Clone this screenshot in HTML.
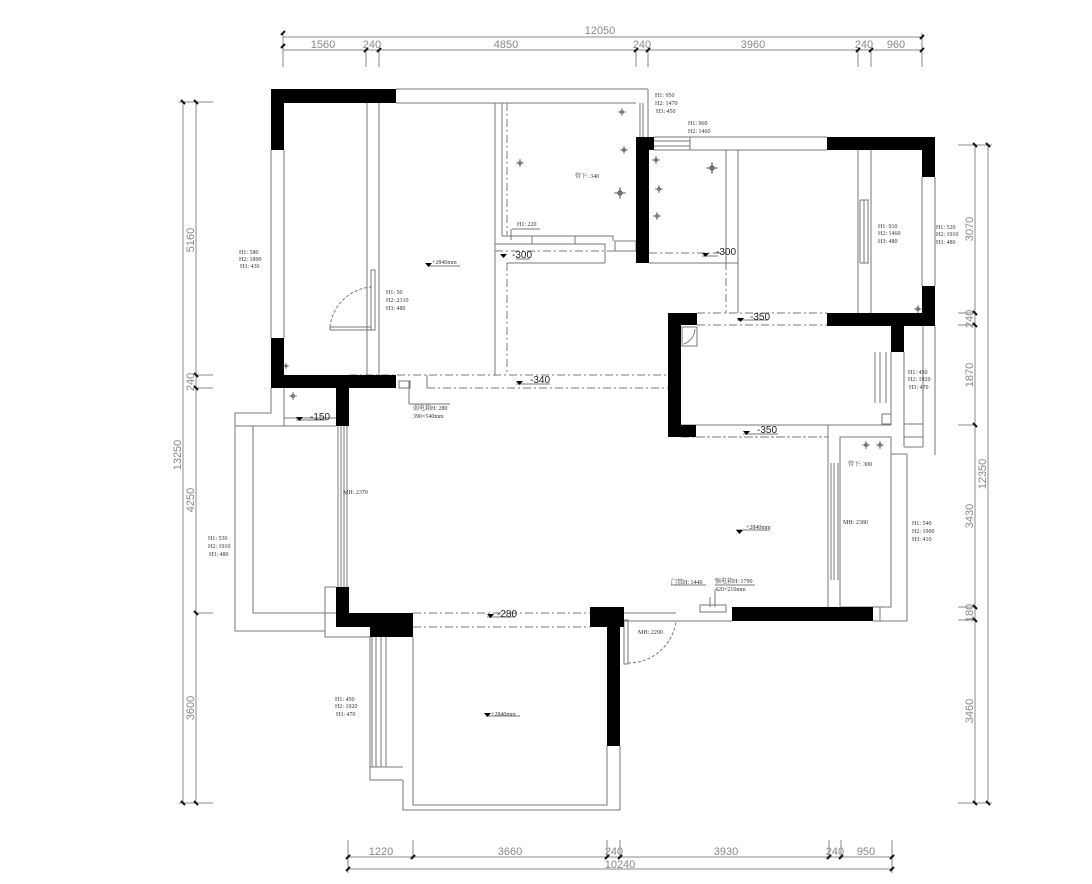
<!DOCTYPE html>
<html><head><meta charset="utf-8"><style>
html,body{margin:0;padding:0;background:#fff;}
svg{display:block;}
text{font-family:"Liberation Serif","Noto Serif CJK SC",serif;fill:#333;}
.d text{font-family:"Liberation Sans",sans-serif;fill:#888;font-size:11px;}
.s text{font-size:6px;}
.l text{font-family:"Liberation Sans",sans-serif;font-size:10px;fill:#222;}
</style></head><body>
<svg width="1092" height="884" viewBox="0 0 1092 884" xmlns="http://www.w3.org/2000/svg">
<defs>
<symbol id="fx" viewBox="-5 -5 10 10"><path d="M-4 0H4M0-4V4" stroke="#555" stroke-width="0.8"/><circle r="1.5" fill="none" stroke="#555" stroke-width="0.8"/></symbol>
</defs>
<g stroke="#888" stroke-width="1" fill="none">
<path d="M283 37H922M283 50H922"/>
<path d="M283 33V67M366 50V67M379 50V67M636 50V67M648 50V67M858 50V67M871 50V67M922 33V67"/>
<path d="M348 857H892M348 869H892"/>
<path d="M348 840V873M413 840V857M607 840V857M620 840V857M829 840V857M841 840V857M892 840V873"/>
<path d="M183 102V803M196 102V803"/>
<path d="M179 102H213M196 375H213M196 388H213M196 613H213M179 803H213"/>
<path d="M975 145V803M988 145V803"/>
<path d="M958 145H992M958 313H975M958 325H975M958 425H975M958 607H975M958 620H975M958 803H992"/>
</g>
<g stroke="#111" stroke-width="2">
<path d="M281 35l4-4M281 48l4-4M364 52l4-4M377 52l4-4M634 52l4-4M646 52l4-4M856 52l4-4M869 52l4-4M920 52l4-4M920 39l4-4"/>
<path d="M346 859l4-4M411 859l4-4M605 859l4-4M618 859l4-4M827 859l4-4M839 859l4-4M890 859l4-4M346 871l4-4M890 871l4-4"/>
<path d="M181 100l4 4M194 100l4 4M194 373l4 4M194 386l4 4M194 611l4 4M181 801l4 4M194 801l4 4"/>
<path d="M973 143l4 4M986 143l4 4M973 311l4 4M973 323l4 4M973 423l4 4M973 605l4 4M973 618l4 4M973 801l4 4M986 801l4 4"/>
</g>
<g class="d">
<text x="600" y="34" text-anchor="middle">12050</text>
<text x="323" y="48" text-anchor="middle">1560</text>
<text x="372" y="48" text-anchor="middle">240</text>
<text x="506" y="48" text-anchor="middle">4850</text>
<text x="642" y="48" text-anchor="middle">240</text>
<text x="753" y="48" text-anchor="middle">3960</text>
<text x="864" y="48" text-anchor="middle">240</text>
<text x="896" y="48" text-anchor="middle">960</text>
<text x="381" y="855" text-anchor="middle">1220</text>
<text x="510" y="855" text-anchor="middle">3660</text>
<text x="614" y="855" text-anchor="middle">240</text>
<text x="726" y="855" text-anchor="middle">3930</text>
<text x="835" y="855" text-anchor="middle">240</text>
<text x="866" y="855" text-anchor="middle">950</text>
<text x="620" y="868" text-anchor="middle">10240</text>
<text transform="translate(194,240) rotate(-90)" text-anchor="middle">5160</text>
<text transform="translate(194,382) rotate(-90)" text-anchor="middle">240</text>
<text transform="translate(194,500) rotate(-90)" text-anchor="middle">4250</text>
<text transform="translate(194,708) rotate(-90)" text-anchor="middle">3600</text>
<text transform="translate(181,455) rotate(-90)" text-anchor="middle">13250</text>
<text transform="translate(973,229) rotate(-90)" text-anchor="middle">3070</text>
<text transform="translate(973,319) rotate(-90)" text-anchor="middle">240</text>
<text transform="translate(973,375) rotate(-90)" text-anchor="middle">1870</text>
<text transform="translate(973,516) rotate(-90)" text-anchor="middle">3430</text>
<text transform="translate(973,613) rotate(-90)" text-anchor="middle">180</text>
<text transform="translate(973,711) rotate(-90)" text-anchor="middle">3460</text>
<text transform="translate(986,474) rotate(-90)" text-anchor="middle">12350</text>
</g>
<g stroke="#777" stroke-width="1" fill="none">
<path d="M396 89H648M396 103H636M648 89V137M643 103V137M640 103V137"/>
<path d="M654 137H827M654 150H827M654 141H690M654 146H690M690 137V150"/>
<path d="M271 150V338M284 150V338"/>
<path d="M922 177V286M935 177V286"/>
<path d="M367 103V375M379 103V375M371 270h4v60h-4zM330 327H371M330 330H371M330 327V330"/>
<path d="M330 327A45 45 0 0 1 371 287" stroke-dasharray="3 2"/>
<path d="M495 103V375M502 103V236"/>
<path d="M507 103V235M507 263V375" stroke-dasharray="8 3 2 3"/>
<path d="M502 236H613V241M495 244H605V263M532 236V244M575 236V244M507 263H605"/>
<path d="M615 241H636V251H615Z"/>
<path d="M495 251H636M649 253H726" stroke-dasharray="8 3 2 3"/>
<path d="M726 150V262M738 150V313M649 263H738"/>
<path d="M726 262V313" stroke-dasharray="8 3 2 3"/>
<path d="M858 150V313M871 150V313M860 200V263M864 200V263M868 200V263M860 200H869M860 263H869"/>
<path d="M697 313H827M697 325H827M681 437H828M349 375H668M427 388H668" stroke-dasharray="8 3 2 3"/>
<path d="M427 375V388M399 381H410V388H399Z"/>
<path d="M682 327H697V346H682ZM684 344Q694 340 695 329"/>
<path d="M681 425H891V352M882 414H891V424H882Z"/>
<path d="M875 352V403M880 352V403M886 352V403"/>
<path d="M935 325V455M904 352V447M923 326V447M904 424H923M904 437H923M904 447H923M891 454H907"/>
<path d="M828 425V607M840 437H891V607H840ZM907 454V621M873 621H907M880 607V621M873 607H880"/>
<path d="M831 463V580M834 463V580M838 463V580"/>
<path d="M696 437H828" stroke-dasharray="8 3 2 3"/>
<path d="M271 388V413H235V631H325M284 388V426M284 418H336M253 426V613H325M235 426H336"/>
<path d="M325 587V637H370M325 587H336M325 613H336"/>
<path d="M338 426V587M341 426V587M344 426V587M347 426V587"/>
<path d="M284 426H336" stroke-dasharray="4 2"/>
<path d="M413 613H590M413 627H590" stroke-dasharray="8 3 2 3"/>
<path d="M624 620h4v44h-4zM620 621H732M624 613H676M700 605H726V612H700Z"/>
<path d="M628 663A48 48 0 0 0 676 621" stroke-dasharray="3 2"/>
<path d="M710 597V607M715 590V607"/>
<path d="M413 637V805H607V746M403 780V810H620V746M370 637V780H403M370 767H403"/>
<path d="M372 637V767M376 637V767M381 637V767M386 637V767"/>
<path d="M428 266H460M516 259H530M702 256H718M737 320H768M516 384H550M296 420H326M743 434H778M736 530H770M487 617H515M486 716H520M512 229H540M511 229V240M409 404V381M409 404H450M671 585H706M715 585H755"/>
</g>
<g fill="#000">
<rect x="271" y="89" width="125" height="14"/>
<rect x="271" y="89" width="13" height="61"/>
<rect x="271" y="338" width="13" height="50"/>
<rect x="271" y="375" width="125" height="13"/>
<rect x="336" y="375" width="13" height="51"/>
<rect x="636" y="137" width="13" height="126"/>
<rect x="636" y="137" width="18" height="13"/>
<rect x="827" y="137" width="108" height="13"/>
<rect x="922" y="137" width="13" height="40"/>
<rect x="922" y="286" width="13" height="40"/>
<rect x="827" y="313" width="108" height="13"/>
<rect x="891" y="313" width="13" height="39"/>
<rect x="668" y="313" width="13" height="124"/>
<rect x="668" y="313" width="29" height="12"/>
<rect x="668" y="425" width="28" height="12"/>
<rect x="336" y="587" width="13" height="40"/>
<rect x="336" y="613" width="77" height="14"/>
<rect x="370" y="613" width="43" height="24"/>
<rect x="590" y="607" width="34" height="20"/>
<rect x="607" y="607" width="13" height="139"/>
<rect x="732" y="607" width="141" height="14"/>
</g>
<g fill="#000">
<path d="M500 254h7l-3.5 4z"/><path d="M702 253h7l-3.5 4z"/><path d="M425 263h7l-3.5 4z"/>
<path d="M737 318h7l-3.5 4z"/><path d="M516 381h7l-3.5 4z"/><path d="M296 417h7l-3.5 4z"/>
<path d="M743 431h7l-3.5 4z"/><path d="M736 530h7l-3.5 4z"/><path d="M487 614h7l-3.5 4z"/><path d="M484 713h7l-3.5 4z"/>
</g>
<g>
<use href="#fx" x="617" y="107" width="10" height="10"/>
<use href="#fx" x="515" y="158" width="10" height="10"/>
<use href="#fx" x="619" y="145" width="10" height="10"/>
<use href="#fx" x="613" y="186" width="14" height="14"/>
<use href="#fx" x="651" y="155" width="10" height="10"/>
<use href="#fx" x="705" y="161" width="14" height="14"/>
<use href="#fx" x="654" y="184" width="10" height="10"/>
<use href="#fx" x="652" y="211" width="10" height="10"/>
<use href="#fx" x="288" y="391" width="10" height="10"/>
<use href="#fx" x="282" y="362" width="8" height="8"/>
<use href="#fx" x="861" y="440" width="10" height="10"/>
<use href="#fx" x="875" y="440" width="10" height="10"/>
<use href="#fx" x="913" y="304" width="10" height="10"/>
</g>
<g class="s">
<text x="655" y="97">H1: 950</text><text x="655" y="105">H2: 1470</text><text x="656" y="113">H3: 450</text>
<text x="688" y="125">H1: 960</text><text x="688" y="133">H2: 1460</text>
<text x="239" y="254">H1: 580</text><text x="239" y="261">H2: 1890</text><text x="240" y="268">H3: 430</text>
<text x="575" y="178">管下: 340</text>
<text x="517" y="226">H1: 220</text>
<text x="386" y="294">H1: 50</text><text x="386" y="302">H2: 2310</text><text x="386" y="310">H3: 480</text>
<text x="432" y="264">+2840mm</text>
<text x="878" y="228">H1: 910</text><text x="878" y="235">H2: 1460</text><text x="878" y="243">H3: 480</text>
<text x="936" y="229">H1: 520</text><text x="936" y="236">H2: 1910</text><text x="936" y="244">H3: 480</text>
<text x="908" y="374">H1: 450</text><text x="908" y="381">H2: 1920</text><text x="909" y="389">H3: 470</text>
<text x="413" y="410">弱电箱H: 280</text><text x="413" y="418">390×540mm</text>
<text x="848" y="466">管下: 300</text>
<text x="343" y="494">MH: 2370</text>
<text x="843" y="524">MH: 2380</text>
<text x="746" y="529">+2840mm</text>
<text x="208" y="540">H1: 530</text><text x="208" y="548">H2: 1910</text><text x="209" y="556">H3: 480</text>
<text x="912" y="525">H1: 540</text><text x="912" y="533">H2: 1900</text><text x="912" y="541">H3: 410</text>
<text x="671" y="584">门禁H: 1440</text>
<text x="715" y="583">强电箱H: 1790</text><text x="715" y="591">420×210mm</text>
<text x="638" y="634">MH: 2290</text>
<text x="491" y="716">+2840mm</text>
<text x="335" y="701">H1: 450</text><text x="335" y="708">H2: 1920</text><text x="336" y="716">H3: 470</text>
</g>
<g class="l">
<text x="512" y="258">-300</text><text x="716" y="255">-300</text><text x="750" y="320">-350</text>
<text x="530" y="383">-340</text><text x="310" y="420">-150</text><text x="757" y="433">-350</text>
<text x="497" y="617">-280</text>
</g>
</svg>
</body></html>
